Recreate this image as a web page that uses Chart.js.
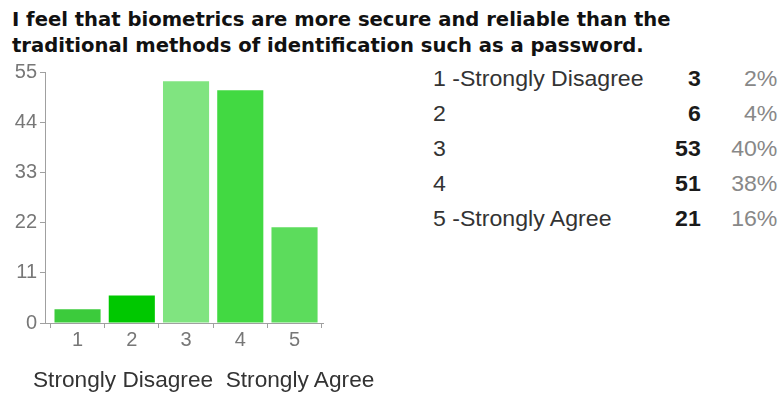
<!DOCTYPE html>
<html>
<head>
<meta charset="utf-8">
<script src="https://cdn.jsdelivr.net/npm/chart.js@4"></script>
<style>
  html, body { margin: 0; padding: 0; background: #fff; }
  body { width: 782px; height: 396px; position: relative; overflow: hidden; font-family: "Liberation Sans", Arial, sans-serif; }
  #title { position: absolute; left: 12px; top: 7px; font: bold 19.6px "DejaVu Sans", Verdana, sans-serif; line-height: 26px; color: #111; white-space: nowrap; }
  #chartBox { position: absolute; left: 0; top: 40px; width: 420px; height: 356px; }
  #caption { position: absolute; left: 33px; top: 367px; font-size: 22px; line-height: 25px; color: #333; white-space: nowrap; transform: scaleX(1.03); transform-origin: left top; }
  table { position: absolute; left: 433px; top: 61px; border-collapse: collapse; font-size: 22px; color: #333; transform: scaleX(1.05); transform-origin: left top; }
  td { height: 35px; padding: 0; white-space: nowrap; }
  td.label { width: 215px; }
  td.count { width: 40px; text-align: right; font-weight: bold; color: #1a1a1a; }
  td.pct { width: 73px; text-align: right; color: #888; }
</style>
</head>
<body>
<div id="title">I feel that biometrics are more secure and reliable than the<br>traditional methods of identification such as a password.</div>
<div id="chartBox"><canvas id="chart"></canvas></div>
<div id="caption">Strongly Disagree&nbsp; Strongly Agree</div>
<table id="summary"></table>
<script>
const categories = [1, 2, 3, 4, 5];
const rowLabels = ['1 -Strongly Disagree', '2', '3', '4', '5 -Strongly Agree'];
const counts = [3, 6, 53, 51, 21];
const percents = ['2%', '4%', '40%', '38%', '16%'];
const yTicks = [0, 11, 22, 33, 44, 55];
const barColors = ['#3ccb3c', '#00c800', '#80e480', '#42d942', '#5cdc5c'];

// summary table beside the chart
const table = document.getElementById('summary');
rowLabels.forEach((label, i) => {
    const tr = document.createElement('tr');
    tr.innerHTML = '<td class="label">' + label + '</td><td class="count">' + counts[i] +
        '</td><td class="pct">' + percents[i] + '</td>';
    table.appendChild(tr);
});

const axisColor = '#a0a0a0';
const tickColor = '#777';

new Chart(document.getElementById('chart').getContext('2d'), {
    type: 'bar',
    data: {
        datasets: [{
            data: categories.map((c, i) => ({ x: c, y: counts[i] })),
            backgroundColor: barColors,
            borderWidth: 0,
            categoryPercentage: 1,
            barPercentage: 0.85,
        }],
    },
    options: {
        responsive: true,
        maintainAspectRatio: false,
        animation: false,
        layout: { padding: { top: 32, right: 97, left: 0, bottom: 0 } },
        plugins: {
            legend: { display: false },
            tooltip: { enabled: false },
        },
        scales: {
            x: {
                type: 'linear',
                offset: false,
                min: 0.4,
                max: 5.525,
                // one tick per answer option
                afterBuildTicks: (scale) => { scale.ticks = categories.map(v => ({ value: v })); },
                grid: { display: true, drawOnChartArea: false, tickLength: 5, color: axisColor },
                border: { color: axisColor, width: 1 },
                ticks: { color: tickColor, font: { size: 20, family: 'Liberation Sans' }, padding: 0 },
                afterFit: (scale) => { scale.height = 73; },
            },
            y: {
                min: 0,
                max: 55,
                afterBuildTicks: (scale) => { scale.ticks = yTicks.map(v => ({ value: v })); },
                grid: { display: true, drawOnChartArea: false, tickLength: 5, color: axisColor },
                border: { color: axisColor, width: 1 },
                ticks: { color: tickColor, font: { size: 20, family: 'Liberation Sans' }, padding: 3 },
                afterFit: (scale) => { scale.width = 45; },
            },
        },
    },
});
</script>
</body>
</html>
